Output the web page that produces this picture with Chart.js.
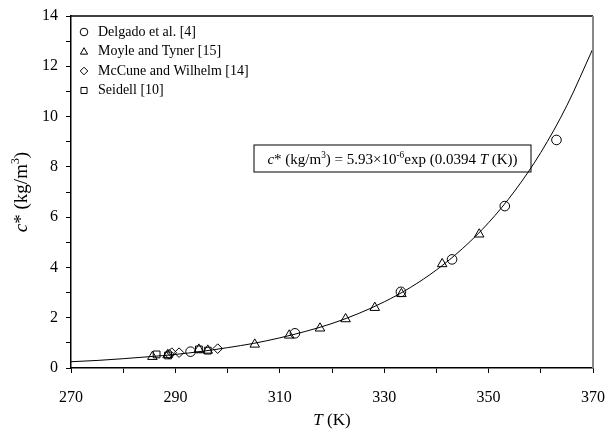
<!DOCTYPE html>
<html>
<head>
<meta charset="utf-8">
<script src="https://cdn.jsdelivr.net/npm/chart.js@4.4.1/dist/chart.umd.min.js"></script>
<style>
  html, body { margin: 0; padding: 0; background: #fff; }
  #wrap { width: 609px; height: 432px; }
</style>
</head>
<body>
<div id="wrap"><canvas id="chart1"></canvas></div>
<script>
// data
var delgadoT = [292.9, 312.9, 333.2, 343.0, 353.1, 363.0];
var delgadoC = [0.65, 1.38, 3.03, 4.32, 6.44, 9.07];

var moyleT = [285.6, 288.5, 294.5, 296.2, 305.2, 311.8, 317.7, 322.6, 328.2, 333.3, 341.1, 348.2];
var moyleC = [0.45, 0.52, 0.74, 0.70, 0.94, 1.30, 1.58, 1.95, 2.40, 2.95, 4.14, 5.32];

var mccuneT = [288.8, 289.3, 290.7, 298.1];
var mccuneC = [0.55, 0.61, 0.61, 0.77];

var seidellT = [286.4, 288.6, 294.5, 296.2];
var seidellC = [0.54, 0.50, 0.74, 0.69];

// fitted curve as drawn
var fitT = [270, 275, 280, 285, 290, 295, 300, 305, 310, 315, 320, 325, 330, 335, 340, 345, 350, 355, 360, 365, 370];
var fitC = [0.25, 0.30, 0.37, 0.45, 0.54, 0.66, 0.81, 0.98, 1.20, 1.46, 1.77, 2.16, 2.63, 3.20, 3.90, 4.75, 5.78, 7.04, 8.57, 10.44, 12.71];

var xTicks = [270, 290, 310, 330, 350, 370];
var yTicks = [0, 2, 4, 6, 8, 10, 12, 14];

var serif = "'Liberation Serif', 'Times New Roman', serif";

function pts(xs, ys) {
    return xs.map(function (x, i) { return { x: x, y: ys[i] }; });
}

var seriesNames = ['Delgado et al. [4]', 'Moyle and Tyner [15]', 'McCune and Wilhelm [14]', 'Seidell [10]'];
var seriesStyles = ['circle', 'triangle', 'rectRot', 'rect'];
var seriesRadius = [4.8, 5.5, 4.8, 4.8];

function markerSet(i, xs, ys) {
    return {
        label: seriesNames[i],
        type: 'scatter',
        data: pts(xs, ys),
        pointStyle: seriesStyles[i],
        pointRadius: seriesRadius[i],
        pointBorderWidth: 1,
        borderColor: '#000',
        backgroundColor: 'rgba(0,0,0,0)',
        pointBackgroundColor: 'rgba(0,0,0,0)',
        pointBorderColor: '#000'
    };
}

var data = {
    datasets: [
        markerSet(0, delgadoT, delgadoC),
        markerSet(1, moyleT, moyleC),
        markerSet(2, mccuneT, mccuneC),
        markerSet(3, seidellT, seidellC),
        {
            label: 'fit',
            type: 'line',
            data: pts(fitT, fitC),
            borderColor: '#000',
            borderWidth: 1,
            pointRadius: 0,
            fill: false,
            cubicInterpolationMode: 'monotone'
        }
    ]
};

// draw a run of text pieces: [text, italic, superscript]
function drawPieces(ctx, pieces, x, y, size) {
    pieces.forEach(function (p) {
        var s = p[2] ? size * 0.62 : size;
        ctx.font = (p[1] ? 'italic ' : '') + s + 'px ' + serif;
        ctx.fillText(p[0], x, p[2] ? y - size * 0.42 : y);
        x += ctx.measureText(p[0]).width;
    });
    return x;
}

function piecesWidth(ctx, pieces, size) {
    var w = 0;
    pieces.forEach(function (p) {
        var s = p[2] ? size * 0.62 : size;
        ctx.font = (p[1] ? 'italic ' : '') + s + 'px ' + serif;
        w += ctx.measureText(p[0]).width;
    });
    return w;
}

function drawMarker(ctx, style, x, y, r) {
    ctx.beginPath();
    if (style === 'circle') {
        ctx.arc(x, y, r, 0, Math.PI * 2);
    } else if (style === 'triangle') {
        ctx.moveTo(x, y - r);
        ctx.lineTo(x + r * 0.95, y + r * 0.7);
        ctx.lineTo(x - r * 0.95, y + r * 0.7);
        ctx.closePath();
    } else if (style === 'rectRot') {
        ctx.moveTo(x, y - r);
        ctx.lineTo(x + r, y);
        ctx.lineTo(x, y + r);
        ctx.lineTo(x - r, y);
        ctx.closePath();
    } else {
        ctx.rect(x - r * 0.8, y - r * 0.8, r * 1.6, r * 1.6);
    }
    ctx.stroke();
}

var decorations = {
    id: 'decorations',
    afterDraw: function (chart) {
        var ctx = chart.ctx;
        var a = chart.chartArea;
        ctx.save();

        // frame: top and right
        ctx.lineWidth = 1.5;
        ctx.strokeStyle = '#000';
        ctx.beginPath();
        ctx.moveTo(a.left, a.top);
        ctx.lineTo(a.right, a.top);
        ctx.stroke();
        ctx.strokeStyle = '#888';
        ctx.lineWidth = 2;
        ctx.beginPath();
        ctx.moveTo(a.right, a.top);
        ctx.lineTo(a.right, a.bottom);
        ctx.stroke();

        // legend
        ctx.fillStyle = '#000';
        ctx.strokeStyle = '#000';
        ctx.lineWidth = 1;
        ctx.textBaseline = 'middle';
        ctx.textAlign = 'left';
        for (var i = 0; i < seriesNames.length; i++) {
            var ly = 32 + i * 19.5;
            drawMarker(ctx, seriesStyles[i], 84, ly, 3.8);
            ctx.font = '14px ' + serif;
            ctx.fillText(seriesNames[i], 98, ly);
        }

        // equation box
        var eq = [['c', true], ['* (kg/m', false], ['3', false, true], [') = 5.93\u00d710', false], ['-6', false, true],
                  ['exp (0.0394 ', false], ['T', true], [' (K))', false]];
        var bx = 254, by = 145, bw = 277, bh = 27;
        ctx.lineWidth = 1;
        ctx.strokeRect(bx, by, bw, bh);
        ctx.textBaseline = 'alphabetic';
        var ew = piecesWidth(ctx, eq, 15);
        drawPieces(ctx, eq, bx + (bw - ew) / 2, by + 19, 15);

        // axis titles
        var xt = [['T', true], [' (K)', false]];
        var xw = piecesWidth(ctx, xt, 17);
        drawPieces(ctx, xt, (a.left + a.right) / 2 - xw / 2, 425, 17);

        var yt = [['c', true], ['* (kg/m', false], ['3', false, true], [')', false]];
        var yw = piecesWidth(ctx, yt, 19);
        ctx.translate(27, (a.top + a.bottom) / 2);
        ctx.rotate(-Math.PI / 2);
        drawPieces(ctx, yt, -yw / 2, 0, 19);

        ctx.restore();
    }
};

var options = {
    responsive: true,
    maintainAspectRatio: false,
    animation: false,
    layout: { padding: { left: 0, right: 16, top: 16, bottom: 0 } },
    plugins: {
        legend: { display: false },
        tooltip: { enabled: false }
    },
    scales: {
        x: {
            type: 'linear',
            min: 270,
            max: 370,
            afterFit: function (scale) { scale.height = 64; scale.paddingRight = 0; scale.paddingLeft = 0; },
            border: { color: '#000', width: 1.5 },
            grid: { drawOnChartArea: false, color: '#000', tickLength: 5, tickWidth: 1 },
            ticks: {
                stepSize: 10,
                padding: 15,
                color: '#000',
                maxRotation: 0,
                font: { family: serif, size: 16 },
                callback: function (v) { return xTicks.indexOf(v) >= 0 ? String(v) : ''; }
            }
        },
        y: {
            type: 'linear',
            min: 0,
            max: 14,
            afterFit: function (scale) { scale.width = 71; scale.paddingTop = 0; scale.paddingBottom = 0; },
            border: { color: '#000', width: 1.5 },
            grid: { drawOnChartArea: false, color: '#000', tickLength: 5, tickWidth: 1 },
            ticks: {
                stepSize: 1,
                padding: 8,
                color: '#000',
                font: { family: serif, size: 16 },
                callback: function (v) { return yTicks.indexOf(v) >= 0 ? String(v) : ''; }
            }
        }
    }
};

var chart1 = new Chart(document.getElementById('chart1'), {
    type: 'scatter',
    data: data,
    options: options,
    plugins: [decorations]
});
</script>
</body>
</html>
